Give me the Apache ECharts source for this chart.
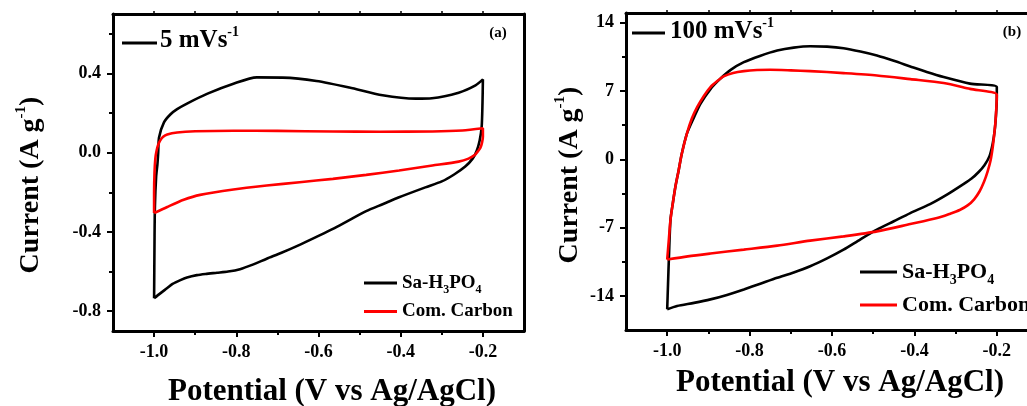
<!DOCTYPE html>
<html>
<head>
<meta charset="utf-8">
<title>CV curves</title>
<script src="https://cdn.jsdelivr.net/npm/echarts@6/dist/echarts.min.js"></script>
<style>
  html, body { margin: 0; padding: 0; background: #fff; }
  #main { width: 1027px; height: 406px; }
</style>
</head>
<body>
<div id="main"></div>
<script>
// 刻度
const potentialTicks = [-1.0, -0.8, -0.6, -0.4, -0.2];
const potentialMinor = [-0.9, -0.7, -0.5, -0.3];
const currentTicksA = [-0.8, -0.4, 0.0, 0.4];
const currentMinorA = [-0.6, -0.2, 0.2, 0.6];
const currentTicksB = [-14, -7, 0, 7, 14];
const currentMinorB = [-10.5, -3.5, 3.5, 10.5];

// 文字
const seriesNames = ['Sa-H3PO4', 'Com. Carbon'];
const scanLabels = ['5 mVs', '100 mVs'];
const panelLabels = ['(a)', '(b)'];
const xTitle = 'Potential (V vs Ag/AgCl)';
const yTitle = 'Current (A g';

// (a) 5 mV/s  [电位 V, 电流 A/g]
const sa5 = [
  [-1.000, -0.735], [-0.999, -0.45], [-0.998, -0.27], [-0.995, -0.12], [-0.992, -0.06],
  [-0.990, 0.0], [-0.988, 0.077], [-0.976, 0.153], [-0.960, 0.194], [-0.944, 0.22],
  [-0.920, 0.248], [-0.870, 0.298], [-0.807, 0.348], [-0.750, 0.38], [-0.687, 0.379],
  [-0.605, 0.362], [-0.525, 0.329], [-0.444, 0.290], [-0.363, 0.273], [-0.324, 0.275],
  [-0.259, 0.303], [-0.218, 0.340], [-0.200, 0.370],
  [-0.201, 0.25], [-0.203, 0.13], [-0.208, 0.06], [-0.215, 0.01], [-0.225, -0.03],
  [-0.243, -0.07], [-0.270, -0.11], [-0.300, -0.145], [-0.340, -0.175], [-0.404, -0.225],
  [-0.444, -0.26], [-0.484, -0.295], [-0.525, -0.34], [-0.565, -0.385], [-0.605, -0.425],
  [-0.646, -0.465], [-0.690, -0.505], [-0.726, -0.535], [-0.760, -0.565], [-0.791, -0.588],
  [-0.820, -0.600], [-0.847, -0.606], [-0.875, -0.612], [-0.896, -0.618], [-0.920, -0.630],
  [-0.936, -0.643], [-0.955, -0.662], [-0.968, -0.683], [-0.985, -0.710], [-1.000, -0.735]
];
const carbon5 = [
  [-1.000, -0.305], [-1.000, -0.20], [-0.999, -0.10], [-0.997, -0.03], [-0.994, 0.01],
  [-0.990, 0.04], [-0.985, 0.062], [-0.978, 0.08], [-0.968, 0.092], [-0.944, 0.102],
  [-0.900, 0.108], [-0.807, 0.111], [-0.700, 0.110], [-0.565, 0.107], [-0.450, 0.106],
  [-0.323, 0.107], [-0.250, 0.112], [-0.200, 0.123],
  [-0.200, 0.080], [-0.202, 0.052], [-0.206, 0.025], [-0.211, 0.010], [-0.220, -0.012],
  [-0.235, -0.030], [-0.259, -0.045], [-0.323, -0.065], [-0.404, -0.090], [-0.484, -0.112],
  [-0.565, -0.132], [-0.646, -0.149], [-0.726, -0.166], [-0.807, -0.186], [-0.888, -0.213],
  [-0.928, -0.238], [-0.968, -0.274], [-1.000, -0.305]
];

// (b) 100 mV/s
const sa100 = [
  [-1.000, -15.38], [-0.998, -12.8], [-0.996, -10.28], [-0.992, -6.19], [-0.986, -4.4],
  [-0.980, -2.79], [-0.972, -1.09], [-0.965, 0.5], [-0.952, 2.65], [-0.935, 4.3],
  [-0.919, 5.71], [-0.895, 7.2], [-0.871, 8.27], [-0.845, 9.2], [-0.814, 9.96],
  [-0.775, 10.6], [-0.733, 11.15], [-0.693, 11.45], [-0.653, 11.59], [-0.612, 11.55],
  [-0.572, 11.39], [-0.531, 11.05], [-0.491, 10.64], [-0.450, 10.1], [-0.410, 9.52],
  [-0.370, 8.95], [-0.329, 8.43], [-0.265, 7.76], [-0.200, 7.41],
  [-0.200, 6.2], [-0.202, 4.5], [-0.205, 3.0], [-0.210, 1.6], [-0.218, 0.3],
  [-0.230, -0.6], [-0.244, -1.3], [-0.262, -2.0], [-0.283, -2.6], [-0.320, -3.6],
  [-0.362, -4.6], [-0.410, -5.51], [-0.450, -6.35], [-0.491, -7.21], [-0.531, -8.2],
  [-0.572, -9.26], [-0.612, -10.15], [-0.653, -10.96], [-0.693, -11.6], [-0.733, -12.14],
  [-0.774, -12.75], [-0.814, -13.34], [-0.855, -13.9], [-0.895, -14.36], [-0.935, -14.72],
  [-0.976, -15.04], [-1.000, -15.38]
];
const carbon100 = [
  [-1.000, -10.28], [-0.996, -8.2], [-0.992, -6.19], [-0.986, -4.4], [-0.980, -2.79],
  [-0.972, -1.09], [-0.965, 0.5], [-0.952, 2.65], [-0.940, 4.2], [-0.927, 5.37],
  [-0.911, 6.5], [-0.895, 7.41], [-0.879, 8.0], [-0.863, 8.50], [-0.840, 8.85],
  [-0.814, 9.04], [-0.782, 9.15], [-0.750, 9.18], [-0.700, 9.12], [-0.653, 9.04],
  [-0.572, 8.84], [-0.491, 8.60], [-0.410, 8.22], [-0.329, 7.82], [-0.265, 7.22],
  [-0.200, 6.63],
  [-0.201, 5.4], [-0.203, 4.0], [-0.206, 2.65], [-0.210, 1.2], [-0.215, -0.1],
  [-0.222, -1.2], [-0.231, -2.3], [-0.242, -3.3], [-0.255, -4.1], [-0.270, -4.7],
  [-0.290, -5.2], [-0.315, -5.6], [-0.345, -6.02], [-0.410, -6.64], [-0.491, -7.39],
  [-0.572, -7.90], [-0.653, -8.34], [-0.733, -8.85], [-0.814, -9.26], [-0.895, -9.66],
  [-0.950, -9.95], [-1.000, -10.28]
];

const FONT = '"Liberation Serif", "Times New Roman", serif';
const chart = echarts.init(document.getElementById('main'));

// 每个面板: 主轴 + 次刻度轴 + 对边框线
function frameAxes(gridIndex, min, max, major, minor, isX, fmt) {
  const base = { type: 'value', gridIndex: gridIndex, min: min, max: max, splitLine: { show: false } };
  return [
    Object.assign({}, base, {
      position: isX ? 'bottom' : 'left',
      axisLine: { onZero: false, lineStyle: { color: '#000', width: 3 } },
      axisTick: { customValues: major, length: 6, lineStyle: { color: '#000', width: 2 } },
      axisLabel: {
        customValues: major, formatter: fmt, margin: 12, color: '#000',
        fontFamily: FONT, fontWeight: 'bold', fontSize: 18
      }
    }),
    Object.assign({}, base, {
      position: isX ? 'bottom' : 'left',
      axisLine: { show: false, onZero: false },
      axisTick: { customValues: minor, length: 4, lineStyle: { color: '#000', width: 2 } },
      axisLabel: { show: false }
    }),
    Object.assign({}, base, {
      position: isX ? 'top' : 'right',
      axisLine: { onZero: false, lineStyle: { color: '#000', width: 3 } },
      axisTick: { show: isX, customValues: major.concat(minor), length: 3, lineStyle: { color: '#000', width: 1.5 } },
      axisLabel: { show: false }
    })
  ];
}

const fmt1 = v => v.toFixed(1);
const fmt0 = v => String(v);

function cv(name, data, color, axisIndex) {
  return {
    name: name, type: 'line', data: data,
    xAxisIndex: axisIndex, yAxisIndex: axisIndex,
    symbol: 'none', smooth: 0.25,
    lineStyle: { color: color, width: 2.6 },
    itemStyle: { color: color },
    z: color === '#000' ? 3 : 4
  };
}

function legendLabel(name) {
  return name === seriesNames[0] ? '{n|Sa-H}{sub|3}{n|PO}{sub|4}' : '{n|' + name + '}';
}
// 图例: 字号随面板不同
function legendAt(left, top, gap, size, lineW) {
  const h = Math.round(size * 1.36);
  const subSize = Math.round(size * 0.64);
  return {
    data: seriesNames, orient: 'vertical', left: left, top: top, itemGap: gap,
    icon: 'rect', itemWidth: lineW, itemHeight: 3, selectedMode: false,
    formatter: legendLabel,
    textStyle: {
      color: '#000', fontFamily: FONT, fontWeight: 'bold', fontSize: size,
      rich: {
        n: { color: '#000', fontFamily: FONT, fontWeight: 'bold', fontSize: size, lineHeight: h, verticalAlign: 'middle' },
        sub: { color: '#000', fontFamily: FONT, fontWeight: 'bold', fontSize: subSize, lineHeight: subSize, padding: [h - subSize, 0, 0, 0], verticalAlign: 'middle' }
      }
    }
  };
}

const supRich = (size, supSize, lift) => ({
  m: { fill: '#000', fontFamily: FONT, fontWeight: 'bold', fontSize: size, verticalAlign: 'middle' },
  s: { fill: '#000', fontFamily: FONT, fontWeight: 'bold', fontSize: supSize, padding: [0, 0, lift, 0], verticalAlign: 'middle' }
});

function textEl(x, y, text, rich, rotation, align) {
  return {
    type: 'text', x: x, y: y, rotation: rotation || 0, silent: true,
    style: { text: text, rich: rich, fill: '#000', align: align || 'center', verticalAlign: 'middle' }
  };
}

const option = {
  animation: false,
  backgroundColor: '#fff',
  grid: [
    { left: 113, top: 14, width: 411, height: 317, outerBoundsMode: 'none' },
    { left: 626, top: 13, width: 412, height: 317, outerBoundsMode: 'none' }
  ],
  xAxis: [].concat(
    frameAxes(0, -1.1, -0.1, potentialTicks, potentialMinor, true, fmt1),
    frameAxes(1, -1.1, -0.1, potentialTicks, potentialMinor, true, fmt1)
  ),
  yAxis: [].concat(
    frameAxes(0, -0.9, 0.7, currentTicksA, currentMinorA, false, fmt1),
    frameAxes(1, -17.5, 15, currentTicksB, currentMinorB, false, fmt0)
  ),
  legend: [legendAt(359, 265, 6, 19, 33), legendAt(855, 252, 7, 22, 37)],
  series: [
    cv(seriesNames[0], sa5, '#000', 0),
    cv(seriesNames[1], carbon5, '#ff0000', 0),
    cv(seriesNames[0], sa100, '#000', 3),
    cv(seriesNames[1], carbon100, '#ff0000', 3)
  ],
  graphic: [
    // 扫描速率标注
    { type: 'line', silent: true, shape: { x1: 122, y1: 43, x2: 157, y2: 43 }, style: { stroke: '#000', lineWidth: 3 } },
    textEl(160, 41, '{m|' + scanLabels[0] + '}{s|-1}', supRich(25, 14, 18), 0, 'left'),
    { type: 'line', silent: true, shape: { x1: 632, y1: 33, x2: 665, y2: 33 }, style: { stroke: '#000', lineWidth: 3 } },
    textEl(670, 32, '{m|' + scanLabels[1] + '}{s|-1}', supRich(25, 14, 18), 0, 'left'),
    textEl(498, 33, '{m|' + panelLabels[0] + '}', supRich(15, 10, 0)),
    textEl(1012, 32, '{m|' + panelLabels[1] + '}', supRich(15, 10, 0)),
    // 坐标轴标题
    textEl(31, 185, '{m|' + yTitle + '}{s|-1}{m|)}', supRich(28, 15, 20), Math.PI / 2),
    textEl(570, 175, '{m|' + yTitle + '}{s|-1}{m|)}', supRich(28, 15, 20), Math.PI / 2),
    textEl(332, 392, '{m|' + xTitle + '}', supRich(31, 15, 0)),
    textEl(840, 383, '{m|' + xTitle + '}', supRich(31, 15, 0))
  ]
};

option && chart.setOption(option);
</script>
</body>
</html>
